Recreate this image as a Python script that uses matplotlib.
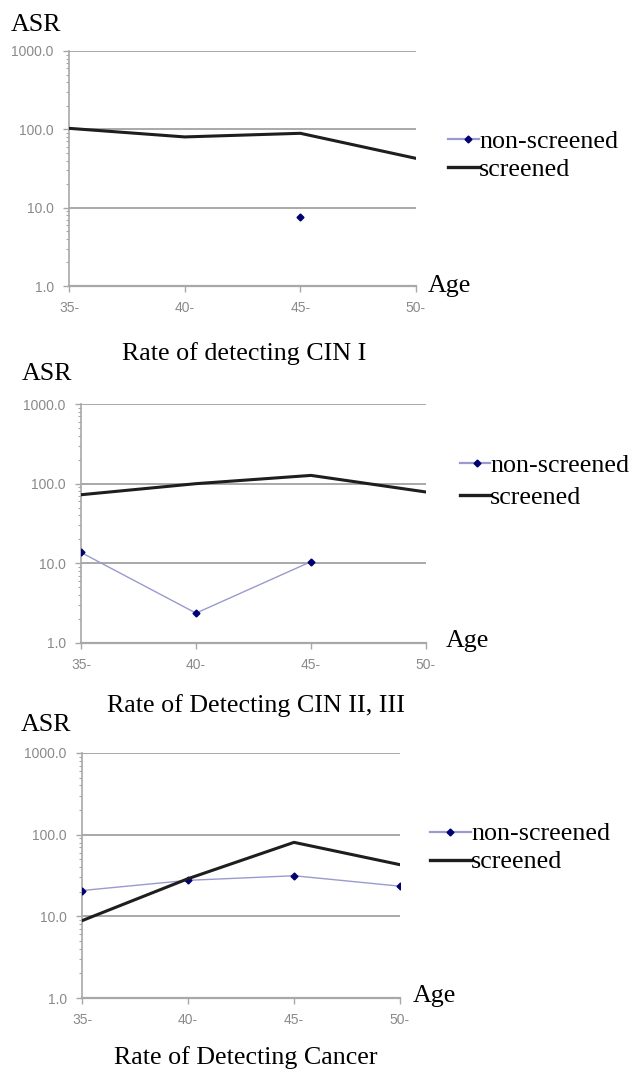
import numpy as np
import matplotlib
matplotlib.use("Agg")
import matplotlib.pyplot as plt
from matplotlib.lines import Line2D
from matplotlib.ticker import FixedLocator, FixedFormatter, LogLocator, NullFormatter

ages = ["35-", "40-", "45-", "50-"]
yticks = [1, 10, 100, 1000]
ytick_labels = ["1.0", "10.0", "100.0", "1000.0"]
series_names = ["non-screened", "screened"]

titles = ["Rate of detecting CIN I", "Rate of Detecting CIN II, III", "Rate of Detecting Cancer"]

cin1_non = [np.nan, np.nan, 7.7, np.nan]
cin1_scr = [103, 80, 89, 42.6]
cin23_non = [13.7, 2.37, 10.5, np.nan]
cin23_scr = [72.6, 100, 127, 78.6]
cancer_non = [20.7, 27.6, 31.4, 23.4]
cancer_scr = [8.85, 28.9, 80.5, 42.9]

W, H = 633, 1070
fig = plt.figure(figsize=(W / 100, H / 100), dpi=100)


def fx(x):
    return x / W


def fy(y):
    return 1 - y / H


# axes boxes in pixels: left, right, top, bottom
boxes = [(69, 416, 51, 286), (81, 426, 404, 643), (82, 400, 753, 998)]
data = [(cin1_non, cin1_scr), (cin23_non, cin23_scr), (cancer_non, cancer_scr)]
asr_pos = [(11, 31), (22, 380), (21, 731)]          # left, baseline
age_pos = [(428, 292), (446, 647), (413, 1002)]     # left, baseline
title_pos = [(244, 360), (256, 712), (246, 1064)]   # center, baseline
# legend: line x0, x1, marker x, y non-screened, y screened
legend_geo = [(448, 479, 468, 139, 167), (460, 490, 477, 463, 495), (430, 471, 450, 832, 860)]

serif = ["Liberation Serif", "DejaVu Serif"]
FS = 18.7
tick_color = "#8a8a8a"
grid_color = "#a8a8a8"
non_line = "#9a9ad0"
non_marker = "#000070"
scr_color = "#1e1e1e"

for i in range(3):
    l, r, t, b = boxes[i]
    ax = fig.add_axes([fx(l), fy(b), (r - l) / W, (b - t) / H])
    non, scr = data[i]
    x = np.arange(len(ages))
    ax.plot(x, non, color=non_line, lw=1.0, marker="D", ms=3.5,
            markerfacecolor=non_marker, markeredgecolor=non_marker, zorder=3)
    ax.plot(x, scr, color=scr_color, lw=2.2, zorder=4)
    ax.set_yscale("log")
    ax.set_ylim(1, 1000)
    ax.set_xlim(0, 3)
    ax.yaxis.set_major_locator(FixedLocator(yticks))
    ax.yaxis.set_major_formatter(FixedFormatter(ytick_labels))
    ax.yaxis.set_minor_locator(LogLocator(base=10, subs=np.arange(2, 10)))
    ax.yaxis.set_minor_formatter(NullFormatter())
    ax.set_xticks(x)
    ax.set_xticklabels(ages)
    for v in [10, 100, 1000]:
        ax.axhline(v, color=grid_color, lw=1.4, zorder=1)
    for s in ["top", "right"]:
        ax.spines[s].set_visible(False)
    ax.spines["left"].set_color(grid_color)
    ax.spines["left"].set_linewidth(1.2)
    ax.spines["bottom"].set_color(grid_color)
    ax.spines["bottom"].set_linewidth(1.6)
    ax.tick_params(axis="both", which="major", colors=grid_color, labelcolor=tick_color,
                   labelsize=10, length=4, width=1)
    ax.tick_params(axis="y", which="minor", colors=grid_color, length=2, width=0.8)
    ax.tick_params(axis="x", pad=7)
    ax.tick_params(axis="y", pad=7)
    for lab in ax.get_xticklabels() + ax.get_yticklabels():
        lab.set_fontfamily(["Liberation Sans", "DejaVu Sans"])
    ax.patch.set_alpha(0)

    fig.text(fx(asr_pos[i][0]), fy(asr_pos[i][1]), "ASR", family=serif, fontsize=FS,
             ha="left", va="baseline")
    fig.text(fx(age_pos[i][0]), fy(age_pos[i][1]), "Age", family=serif, fontsize=FS,
             ha="left", va="baseline")
    fig.text(fx(title_pos[i][0]), fy(title_pos[i][1]), titles[i], family=serif, fontsize=FS,
             ha="center", va="baseline")

    x0, x1, xm, yn, ys = legend_geo[i]
    fig.add_artist(Line2D([fx(x0), fx(x1)], [fy(yn), fy(yn)], transform=fig.transFigure,
                          color=non_line, lw=1.6))
    fig.add_artist(Line2D([fx(xm)], [fy(yn)], transform=fig.transFigure, marker="D", ms=3.5,
                          color=non_marker, lw=0))
    fig.add_artist(Line2D([fx(x0), fx(x1)], [fy(ys), fy(ys)], transform=fig.transFigure,
                          color=scr_color, lw=2.4))
    fig.text(fx(x1), fy(yn), series_names[0], family=serif, fontsize=FS,
             ha="left", va="center_baseline")
    fig.text(fx(x1), fy(ys), series_names[1], family=serif, fontsize=FS,
             ha="left", va="center_baseline")

fig.savefig("out.png", dpi=100, facecolor="white")
